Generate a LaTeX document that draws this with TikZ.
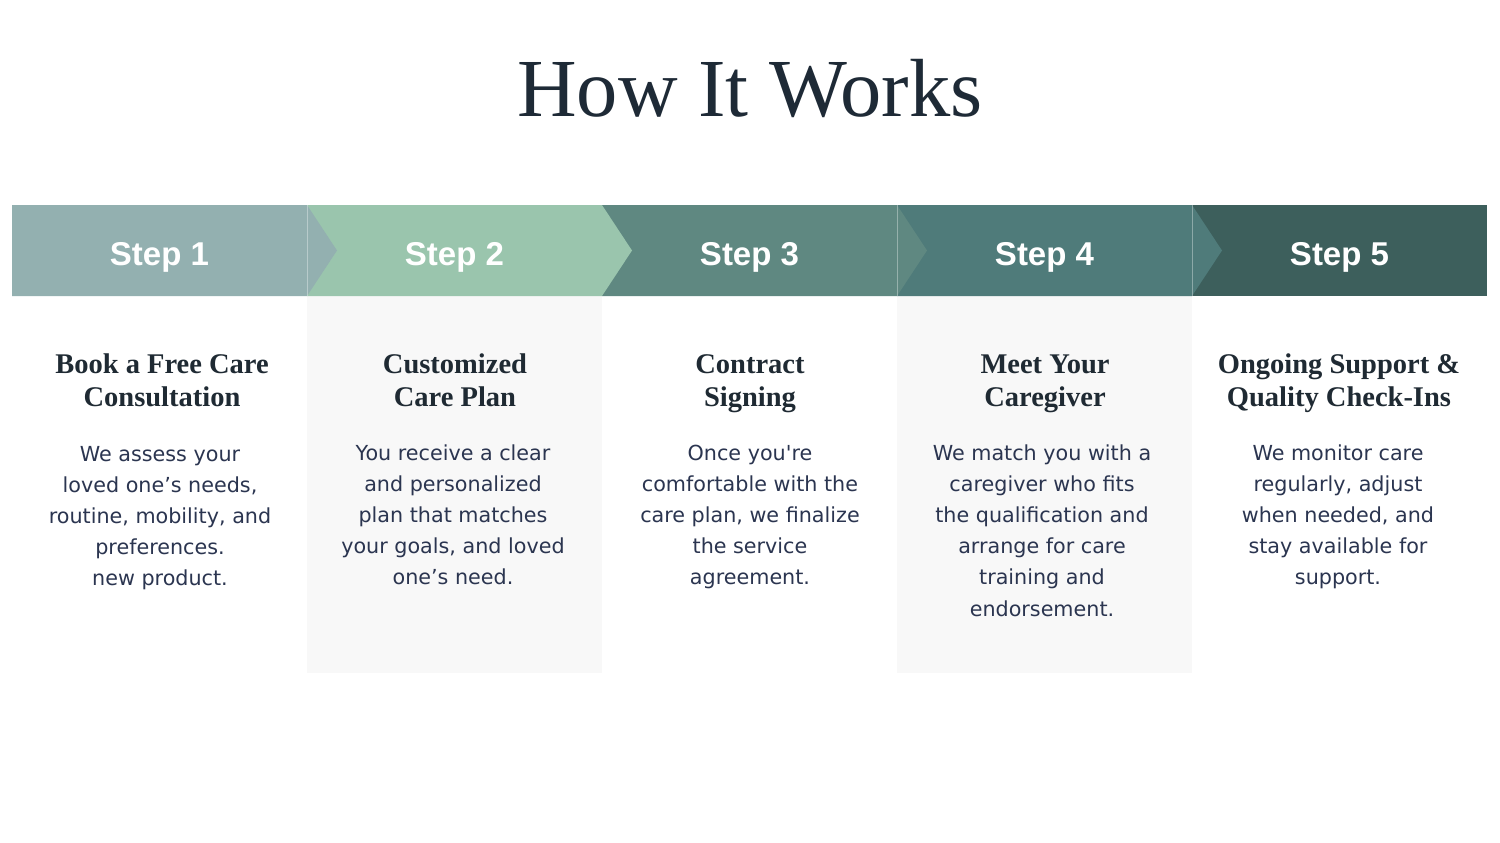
\documentclass[tikz,border=0pt]{standalone}
\usepackage{fontspec}
\setmainfont{Liberation Serif}
\newfontfamily\bodyfont{DejaVu Sans}
\newfontfamily\stepfont{Liberation Sans}
\definecolor{sone}{HTML}{93B0B0}
\definecolor{stwo}{HTML}{9AC5AD}
\definecolor{sthree}{HTML}{5F8881}
\definecolor{sfour}{HTML}{4F7B7A}
\definecolor{sfive}{HTML}{3D5F5C}
\definecolor{titlec}{HTML}{1E2A36}
\definecolor{headc}{HTML}{1F2A33}
\definecolor{bodyc}{HTML}{2B3550}
\definecolor{panelc}{HTML}{F8F8F8}
\tikzset{
  steplabel/.style={font=\stepfont\bfseries\fontsize{33}{33}\selectfont, text=white, anchor=base, inner sep=0pt},
  headtext/.style={font=\bfseries\fontsize{28.5}{33.5}\selectfont, text=headc, align=center, anchor=base, inner sep=0pt},
  bodytext/.style={font=\bodyfont\fontsize{20.7}{31.2}\selectfont, text=bodyc, align=center, anchor=base, inner sep=0pt},
  titletext/.style={font=\fontsize{82.5}{90}\selectfont, text=titlec, anchor=base, inner sep=0pt},
  seamline/.style={white, opacity=0.35, line width=1pt},
}
\begin{document}
\begin{tikzpicture}[x=1pt,y=-1pt]
\useasboundingbox (0,0) rectangle (1500,843);
\fill[white] (0,0) rectangle (1500,843);
% panels
\fill[panelc] (307,296) rectangle (602,673);
\fill[panelc] (897,296) rectangle (1192,673);
% header band, drawn last-to-first so each chevron lies on the next segment
\fill[sfive] (1192,205) rectangle (1487,296);
\fill[sfour] (897,205) -- (1192,205) -- (1222,250.5) -- (1192,296) -- (897,296) -- cycle;
\fill[sthree] (602,205) -- (897,205) -- (927,250.5) -- (897,296) -- (602,296) -- cycle;
\fill[stwo] (307,205) -- (602,205) -- (632,250.5) -- (602,296) -- (307,296) -- cycle;
\fill[sone] (12,205) -- (307,205) -- (337,250.5) -- (307,296) -- (12,296) -- cycle;
\draw[seamline] (307,205) -- (307,296);
\draw[seamline] (897,205) -- (897,296);
\draw[seamline] (1192,205) -- (1192,296);
% title
\node[titletext] (title) at (750,116) {How It Works};
% step labels
\node[steplabel] (s1) at (159.5,265) {Step 1};
\node[steplabel] (s2) at (454.5,265) {Step 2};
\node[steplabel] (s3) at (749.5,265) {Step 3};
\node[steplabel] (s4) at (1044.5,265) {Step 4};
\node[steplabel] (s5) at (1339.5,265) {Step 5};
% headings (anchor = baseline of last line)
\node[headtext] (h1) at (162,406.5) {Book a Free Care\\Consultation};
\node[headtext] (h2) at (455,406.5) {Customized\\Care Plan};
\node[headtext] (h3) at (750,406.5) {Contract\\Signing};
\node[headtext] (h4) at (1045,406.5) {Meet Your\\Caregiver};
\node[headtext] (h5) at (1339,406.5) {Ongoing Support \&\\Quality Check-Ins};
% body (anchor = baseline of last line)
\node[bodytext] (b1) at (160,585.8) {We assess your\\loved one’s needs,\\routine, mobility, and\\preferences.\\new product.};
\node[bodytext] (b2) at (453,584.8) {You receive a clear\\and personalized\\plan that matches\\your goals, and loved\\one’s need.};
\node[bodytext] (b3) at (750,584.8) {Once you're\\comfortable with the\\care plan, we finalize\\the service\\agreement.};
\node[bodytext] (b4) at (1042,616) {We match you with a\\caregiver who fits\\the qualification and\\arrange for care\\training and\\endorsement.};
\node[bodytext] (b5) at (1338,584.8) {We monitor care\\regularly, adjust\\when needed, and\\stay available for\\support.};
\end{tikzpicture}
\end{document}
